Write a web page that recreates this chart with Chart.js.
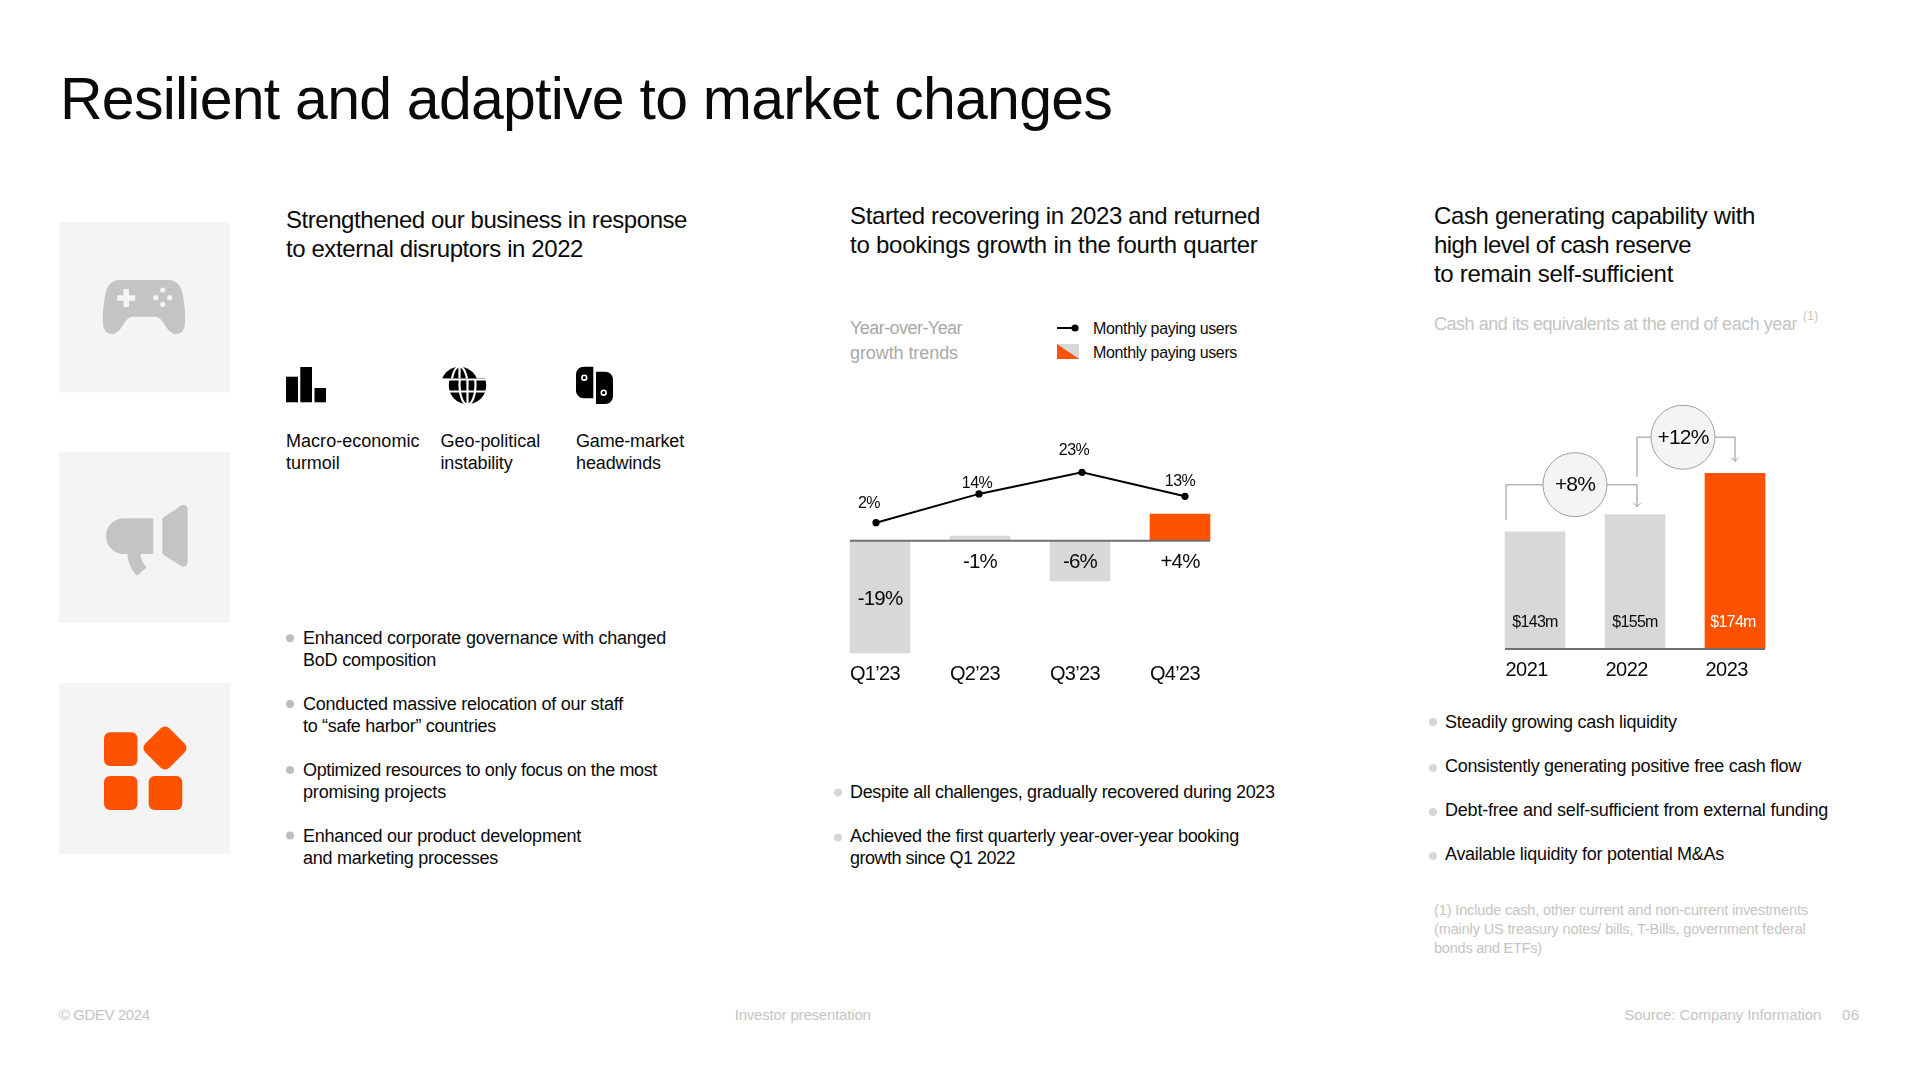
<!DOCTYPE html>
<html>
<head>
<meta charset="utf-8">
<title>Resilient and adaptive to market changes</title>
<script src="https://cdn.jsdelivr.net/npm/chart.js@4"></script>
<style>
  html, body { margin: 0; background: #fff; }
  #page { position: relative; width: 1920px; height: 1080px; overflow: hidden; font-family: "Liberation Sans", sans-serif; }
  #page canvas { position: absolute; }
  #page svg { position: absolute; left: 0; top: 0; }
  .t { position: absolute; white-space: nowrap; line-height: 1; transform: translateY(-50%); }
</style>
</head>
<body>
<div id="page">
  <svg width="1920" height="1080" viewBox="0 0 1920 1080">
    <defs>
      <g id="globe">
        <circle cx="467.5" cy="385.5" r="18.7" fill="#000"/>
        <g fill="none" stroke="#fff" stroke-width="2.2">
          <ellipse cx="467.5" cy="385.5" rx="8" ry="19"/>
          <path d="M467.5 366V405M445 379.5H490M445 391.5H490"/>
        </g>
      </g>
      <clipPath id="globeTop"><rect x="430" y="360" width="70" height="18.5"/></clipPath>
      <clipPath id="globeRest"><rect x="430" y="378.5" width="70" height="30"/></clipPath>
    </defs>
    <rect x="59" y="222" width="171" height="170.5" fill="#f4f4f4"/>
    <rect x="59" y="452" width="171" height="171" fill="#f4f4f4"/>
    <rect x="59" y="683" width="171" height="171" fill="#f4f4f4"/>
    <path fill="#c4c4c4" d="M120 280H168C178 280 182 288 183 296C185 308 185.5 316 185 324C184.5 331 180 334 176 334C170 334 167 328 163 322C160 318 158 316.7 154 316.7H134C130 316.7 128 318 125 322C121 328 118 334 112 334C108 334 103.5 331 103 324C102.5 316 103 308 105 296C106 288 110 280 120 280Z"/>
    <path fill="#f4f4f4" d="M123.5 289H129V295.2H135.2V300.8H129V307H123.5V300.8H117.3V295.2H123.5Z"/>
    <g fill="#f4f4f4">
      <circle cx="162.7" cy="290" r="2.6"/><circle cx="155.7" cy="297.7" r="2.6"/>
      <circle cx="169.7" cy="297.7" r="2.6"/><circle cx="162.7" cy="304.3" r="2.6"/>
    </g>
    <g fill="#c4c4c4">
      <path d="M124 518.3H152C152.9 518.3 153.3 518.9 153.3 519.8V552.5C153.3 553.4 152.9 554 152 554H140.5C140.8 559 143 564 146.7 567.3L137 575.7C131 570 127.8 562 127.5 554H124C114 554 106 546 106 536.2C106 526.3 114 518.3 124 518.3Z"/>
      <path d="M162.3 518.3L181 505.6C184 503.6 187.7 505.8 187.7 509.5V562C187.7 565.7 184 567.9 181 566L162.3 554Z"/>
    </g>
    <g fill="#ff5200">
      <rect x="104" y="732.3" width="33.5" height="33.7" rx="6"/>
      <rect x="104" y="776" width="33.5" height="34" rx="6"/>
      <rect x="148.7" y="776" width="33.6" height="34" rx="6"/>
      <rect x="148" y="731" width="34" height="34" rx="6" transform="rotate(45 165 748)"/>
    </g>
    <g fill="#000">
      <rect x="286" y="376.7" width="12" height="25.6"/>
      <rect x="300.3" y="367" width="11.7" height="35.3"/>
      <rect x="314.5" y="388" width="11.5" height="14.3"/>
    </g>
    <use href="#globe" clip-path="url(#globeRest)"/>
    <g transform="translate(-8 0)"><use href="#globe" clip-path="url(#globeTop)"/></g>
    <path d="M593.3 366.7V398.3H584C579.5 398.3 576 394.8 576 390.3V374.7C576 370.2 579.5 366.7 584 366.7Z" fill="#000"/>
    <path d="M596 371.7H605C609.5 371.7 613 375.2 613 379.7V396C613 400.5 609.5 404 605 404H596Z" fill="#000"/>
    <circle cx="584.3" cy="377.7" r="2.4" fill="#000" stroke="#fff" stroke-width="1.6"/>
    <circle cx="603.7" cy="392.7" r="2.4" fill="#000" stroke="#fff" stroke-width="1.6"/>
    <g fill="#bdbdbd">
      <circle cx="290" cy="638.3" r="4"/><circle cx="290" cy="704" r="4"/>
      <circle cx="290" cy="770" r="4"/><circle cx="290" cy="835.5" r="4"/>
    </g>
    <g fill="#d6d6d6">
      <circle cx="838" cy="792.5" r="4"/><circle cx="838" cy="837.6" r="4"/>
      <circle cx="1433" cy="722" r="4"/><circle cx="1433" cy="768" r="4"/>
      <circle cx="1433" cy="812" r="4"/><circle cx="1433" cy="856" r="4"/>
    </g>
    <path d="M1057 328H1077" stroke="#000" stroke-width="2"/>
    <circle cx="1075" cy="328" r="3.6" fill="#000"/>
    <rect x="1057" y="344" width="22" height="15" fill="#d8d8d8"/>
    <path d="M1057 344V359H1079Z" fill="#ff5200"/>
  </svg>
  <canvas id="bookingsChart" width="400" height="270" style="left:830px;top:440px"></canvas>
  <canvas id="cashChart" width="300" height="300" style="left:1485px;top:400px"></canvas>
</div>
<script>
const quarterLabels = ['Q1\u201923', 'Q2\u201923', 'Q3\u201923', 'Q4\u201923'];
const payingUsersGrowth = [2, 14, 23, 13];
const payingUsersLabels = ['2%', '14%', '23%', '13%'];
// bar lengths as drawn in the picture, the slide does not draw them to scale
const bookingsBars = [-19, 0.8, -6.8, 4.5];
const bookingsLabels = ['-19%', '-1%', '-6%', '+4%'];

const yearLabels = ['2021', '2022', '2023'];
// same here, 2021 and 2022 are drawn shorter than their printed value
const cashBars = [116, 133, 174];
const cashLabels = ['$143m', '$155m', '$174m'];
const cashChangeLabels = ['+8%', '+12%'];

const INK = '#0a0a0a';
const ORANGE = '#ff5200';
const BAR_GREY = '#d8d8d8';
const AXIS_GREY = '#6f6f6f';
const MUTED = '#c4c4c4';

// x, middle y, font size, colour, target width, text
const textLines = [
  [60, 99, 59, INK, 1052, 'Resilient and adaptive to market changes'],
  [286, 220, 24, INK, 401, 'Strengthened our business in response'],
  [286, 248.5, 24, INK, 297, 'to external disruptors in 2022'],
  [850, 215.5, 24, INK, 410, 'Started recovering in 2023 and returned'],
  [850, 245, 24, INK, 407.6, 'to bookings growth in the fourth quarter'],
  [1434, 215.5, 24, INK, 321, 'Cash generating capability with'],
  [1434, 245, 24, INK, 257, 'high level of cash reserve'],
  [1434, 273.5, 24, INK, 239, 'to remain self-sufficient'],
  [286, 441, 18, INK, 133.5, 'Macro-economic'],
  [286, 463, 18, INK, 53.6, 'turmoil'],
  [440.5, 441, 18, INK, 99.6, 'Geo-political'],
  [440.5, 463, 18, INK, 72, 'instability'],
  [576, 441, 18, INK, 108, 'Game-market'],
  [576, 463, 18, INK, 85, 'headwinds'],
  [303, 637.7, 18, INK, 363, 'Enhanced corporate governance with changed'],
  [303, 660, 18, INK, 133, 'BoD composition'],
  [303, 703.5, 18, INK, 320, 'Conducted massive relocation of our staff'],
  [303, 726, 18, INK, 193, 'to \u201csafe harbor\u201d countries'],
  [303, 770, 18, INK, 354, 'Optimized resources to only focus on the most'],
  [303, 792, 18, INK, 143, 'promising projects'],
  [303, 836, 18, INK, 278, 'Enhanced our product development'],
  [303, 858, 18, INK, 195, 'and marketing processes'],
  [850, 328, 18, '#a8a8a8', 112, 'Year-over-Year'],
  [850, 353, 18, '#a8a8a8', 108, 'growth trends'],
  [1093, 328.5, 16, INK, 144, 'Monthly paying users'],
  [1093, 353, 16, INK, 144, 'Monthly paying users'],
  [850, 792, 18, INK, 424.7, 'Despite all challenges, gradually recovered during 2023'],
  [850, 836.3, 18, INK, 389, 'Achieved the first quarterly year-over-year booking'],
  [850, 858.4, 18, INK, 165, 'growth since Q1 2022'],
  [1434, 324, 18, MUTED, 363, 'Cash and its equivalents at the end of each year'],
  [1803, 316, 12, MUTED, 15.7, '(1)'],
  [1445, 722, 18, INK, 231.7, 'Steadily growing cash liquidity'],
  [1445, 765.7, 18, INK, 356, 'Consistently generating positive free cash flow'],
  [1445, 809.7, 18, INK, 383, 'Debt-free and self-sufficient from external funding'],
  [1445, 853.7, 18, INK, 279, 'Available liquidity for potential M&As'],
  [1434, 910, 14.5, MUTED, 374, '(1) Include cash, other current and non-current investments'],
  [1434, 929, 14.5, MUTED, 371.7, '(mainly US treasury notes/ bills, T-Bills, government federal'],
  [1434, 948, 14.5, MUTED, 108, 'bonds and ETFs)'],
  [59, 1014, 15, MUTED, 90.6, '\u00a9 GDEV 2024'],
  [734.7, 1014, 15, MUTED, 136, 'Investor presentation'],
  [1624.3, 1014, 15, MUTED, 197, 'Source: Company Information'],
  [1842, 1014, 15, MUTED, 17.7, '06']
];

const page = document.getElementById('page');
textLines.forEach(([x, y, size, color, width, text]) => {
  const span = document.createElement('span');
  span.className = 't';
  span.textContent = text;
  span.style.cssText = `left:${x}px;top:${y}px;font-size:${size}px;color:${color}`;
  page.appendChild(span);
  // squeeze each line to the width it has on the slide
  const natural = span.getBoundingClientRect().width;
  span.style.letterSpacing = ((width - natural) / text.length).toFixed(3) + 'px';
});

function setTracking(chart, px) {
  chart.ctx.letterSpacing = px;
}

function drawLabel(ctx, text, x, y, size, color) {
  ctx.save();
  ctx.font = size + 'px "Liberation Sans"';
  ctx.fillStyle = color;
  ctx.textAlign = 'center';
  ctx.textBaseline = 'middle';
  ctx.fillText(text, x, y);
  ctx.restore();
}

function drawBaseline(chart, bars, y) {
  const ctx = chart.ctx;
  ctx.save();
  ctx.strokeStyle = AXIS_GREY;
  ctx.lineWidth = 2;
  ctx.beginPath();
  ctx.moveTo(bars[0].x - bars[0].width / 2, y);
  ctx.lineTo(bars[bars.length - 1].x + bars[bars.length - 1].width / 2, y);
  ctx.stroke();
  ctx.restore();
}

const lineLabelOffsets = [[-7, -19], [-2, -10], [-8, -22], [-5, -15]];

const bookingsPlugin = {
  id: 'bookingsLabels',
  beforeDraw: chart => setTracking(chart, '-0.7px'),
  afterDatasetsDraw(chart) {
    const ctx = chart.ctx;
    const bars = chart.getDatasetMeta(1).data;
    const points = chart.getDatasetMeta(0).data;
    const zero = chart.scales.y.getPixelForValue(0);
    drawBaseline(chart, bars, zero);
    ctx.letterSpacing = '-0.8px';
    bars.forEach((bar, i) => {
      const y = bookingsBars[i] < -10 ? (bar.y + zero) / 2 + 3 : zero + 21.5;
      drawLabel(ctx, bookingsLabels[i], bar.x, y, 20.5, INK);
    });
    ctx.letterSpacing = '-0.5px';
    points.forEach((pt, i) => {
      const [dx, dy] = lineLabelOffsets[i];
      drawLabel(ctx, payingUsersLabels[i], pt.x + dx, pt.y + dy, 16, INK);
    });
    ctx.letterSpacing = '-0.7px';
  }
};

function drawBracket(ctx, pts, arrow) {
  ctx.save();
  ctx.strokeStyle = '#b5b5b5';
  ctx.lineWidth = 1.5;
  ctx.beginPath();
  pts.forEach(([x, y], i) => (i ? ctx.lineTo(x, y) : ctx.moveTo(x, y)));
  ctx.stroke();
  if (arrow) {
    ctx.strokeStyle = '#999';
    ctx.lineWidth = 1;
    ctx.beginPath();
    ctx.moveTo(arrow[0] - 3.5, arrow[1] - 3.5);
    ctx.lineTo(arrow[0], arrow[1]);
    ctx.lineTo(arrow[0] + 3.5, arrow[1] - 3.5);
    ctx.stroke();
  }
  ctx.restore();
}

function drawBubble(ctx, text, x, y) {
  ctx.save();
  ctx.beginPath();
  ctx.arc(x, y, 32, 0, Math.PI * 2);
  ctx.fillStyle = '#f4f4f4';
  ctx.fill();
  ctx.strokeStyle = '#a0a0a0';
  ctx.lineWidth = 1;
  ctx.stroke();
  ctx.restore();
  ctx.letterSpacing = '-0.8px';
  drawLabel(ctx, text, x, y + 1, 21, INK);
}

const cashPlugin = {
  id: 'cashLabels',
  beforeDraw: chart => setTracking(chart, '-0.5px'),
  afterDatasetsDraw(chart) {
    const ctx = chart.ctx;
    const bars = chart.getDatasetMeta(0).data;
    const zero = chart.scales.y.getPixelForValue(0);
    drawBaseline(chart, bars, zero);

    const y1 = bars[1].y - 30;
    const y2 = bars[2].y - 36;
    const x1 = bars[1].x + 2;
    drawBracket(ctx, [[bars[0].x - 29, bars[0].y - 12], [bars[0].x - 29, y1], [x1, y1], [x1, bars[1].y - 8]], [x1, bars[1].y - 8]);
    drawBracket(ctx, [[x1, bars[1].y - 38], [x1, y2], [bars[2].x, y2], [bars[2].x, bars[2].y - 12]], [bars[2].x, bars[2].y - 12]);
    drawBubble(ctx, cashChangeLabels[0], (bars[0].x + bars[1].x) / 2 - 10, y1);
    drawBubble(ctx, cashChangeLabels[1], (bars[1].x + bars[2].x) / 2 - 2, y2);

    ctx.letterSpacing = '-0.7px';
    bars.forEach((bar, i) => {
      drawLabel(ctx, cashLabels[i], bar.x - (i === 2 ? 2 : 0), zero - 26, 16, i === 2 ? '#fff' : INK);
    });
    ctx.letterSpacing = '-0.5px';
  }
};

const hiddenAxis = { display: false };

// long tick labels must not push the plot area in
function fixAxisBox(height) {
  return s => {
    s.height = height;
    s.paddingLeft = 0;
    s.paddingRight = 0;
  };
}

new Chart(document.getElementById('bookingsChart'), {
  data: {
    labels: quarterLabels,
    datasets: [
      {
        type: 'line',
        data: payingUsersGrowth.map((v, i) => ({ x: i, y: v })),
        xAxisID: 'x2',
        yAxisID: 'y2',
        order: 0,
        borderColor: '#000',
        borderWidth: 2,
        tension: 0,
        pointRadius: 3.6,
        pointBackgroundColor: '#000',
        pointBorderWidth: 0
      },
      {
        type: 'bar',
        data: bookingsBars,
        order: 1,
        grouped: false,
        barThickness: 60,
        backgroundColor: [BAR_GREY, BAR_GREY, BAR_GREY, ORANGE]
      }
    ]
  },
  options: {
    responsive: false,
    animation: false,
    events: [],
    layout: { padding: 0, autoPadding: false },
    plugins: { legend: { display: false }, tooltip: { enabled: false } },
    scales: {
      x: {
        afterFit: fixAxisBox(50),
        grid: { display: false, drawTicks: false },
        border: { display: false },
        ticks: {
          color: INK,
          font: { family: 'Liberation Sans', size: 20 },
          align: 'start',
          labelOffset: -30,
          padding: 2,
          maxRotation: 0,
          autoSkip: false
        }
      },
      y: { ...hiddenAxis, min: -20.22, max: 17.07 },
      x2: { type: 'linear', ...hiddenAxis, min: -0.4466, max: 3.437 },
      y2: { ...hiddenAxis, min: -55.2, max: 36.46 }
    }
  },
  plugins: [bookingsPlugin]
});

new Chart(document.getElementById('cashChart'), {
  type: 'bar',
  data: {
    labels: yearLabels,
    datasets: [{
      data: cashBars,
      barThickness: 60,
      backgroundColor: [BAR_GREY, BAR_GREY, ORANGE]
    }]
  },
  options: {
    responsive: false,
    animation: false,
    events: [],
    layout: { padding: 0, autoPadding: false },
    plugins: { legend: { display: false }, tooltip: { enabled: false } },
    scales: {
      x: {
        afterFit: fixAxisBox(51),
        grid: { display: false, drawTicks: false },
        border: { display: false },
        ticks: {
          color: INK,
          font: { family: 'Liberation Sans', size: 20 },
          align: 'start',
          labelOffset: -29.5,
          padding: 9,
          maxRotation: 0,
          autoSkip: false
        }
      },
      y: { ...hiddenAxis, min: 0, max: 246.5 }
    }
  },
  plugins: [cashPlugin]
});
</script>
</body>
</html>
